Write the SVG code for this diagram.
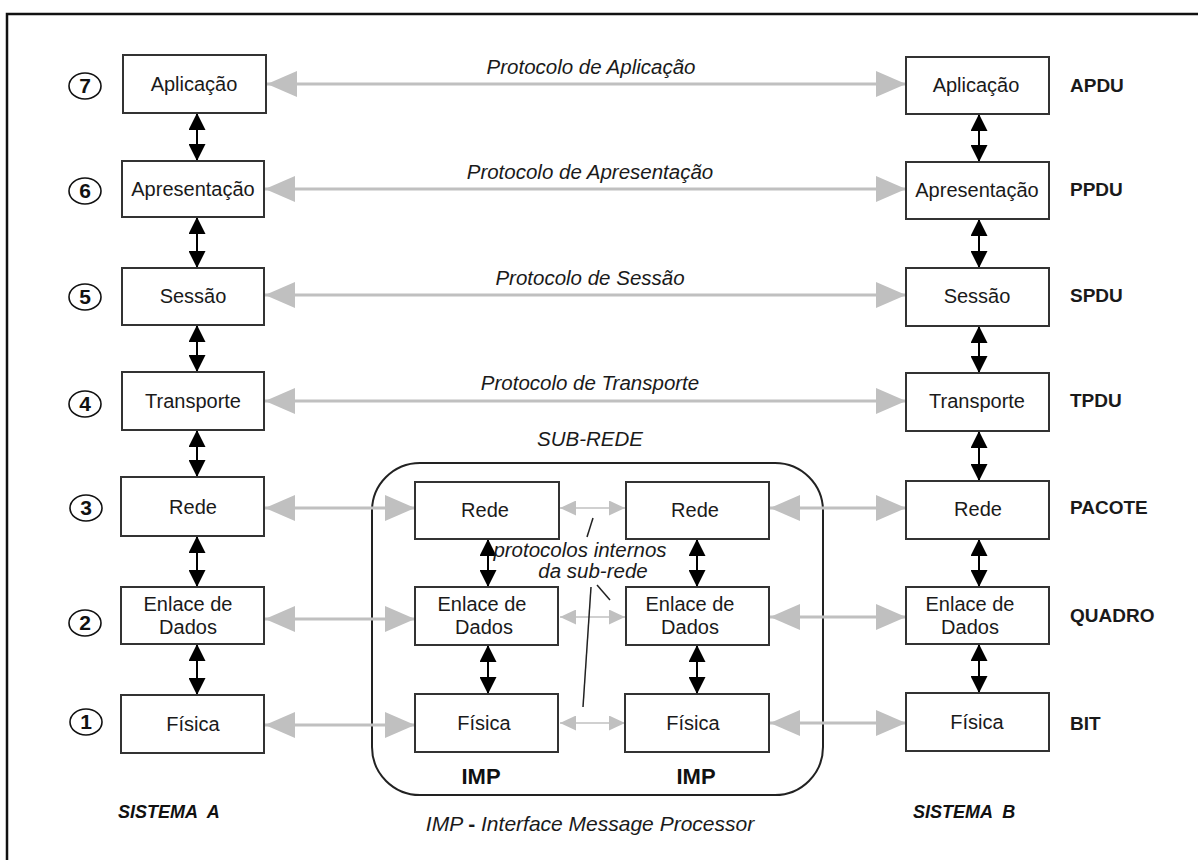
<svg xmlns="http://www.w3.org/2000/svg" width="1198" height="860" viewBox="0 0 1198 860">
<style>
.box{fill:#fff;stroke:#333;stroke-width:2}
.lbl{font-family:"Liberation Sans",Arial,sans-serif;font-size:20px;fill:#1a1a1a;text-anchor:middle}
.it{font-family:"Liberation Sans",Arial,sans-serif;font-size:20.5px;font-style:italic;fill:#1a1a1a;text-anchor:middle}
.pdu{font-family:"Liberation Sans",Arial,sans-serif;font-size:19px;font-weight:bold;fill:#1a1a1a}
.num{font-family:"Liberation Sans",Arial,sans-serif;font-size:21px;font-weight:bold;fill:#111;text-anchor:middle}
.circ{fill:#fff;stroke:#111;stroke-width:1.6}
.gray{stroke:#c0c0c0;stroke-width:3;fill:none;marker-start:url(#gh);marker-end:url(#gh)}
.gsm{stroke:#c0c0c0;stroke-width:1.6;fill:none;marker-start:url(#gs);marker-end:url(#gs)}
.blk{stroke:#000;stroke-width:2;fill:none;marker-start:url(#bh);marker-end:url(#bh)}
.ptr{stroke:#222;stroke-width:1.5;fill:none}
</style>
<defs>
<marker id="gh" markerUnits="userSpaceOnUse" markerWidth="30" markerHeight="26" refX="30" refY="13" orient="auto-start-reverse" viewBox="0 0 30 26"><path d="M0,0 L30,13 L0,26 Z" fill="#c0c0c0"/></marker>
<marker id="gs" markerUnits="userSpaceOnUse" markerWidth="16" markerHeight="15" refX="16" refY="7.5" orient="auto-start-reverse" viewBox="0 0 16 15"><path d="M0,0 L16,7.5 L0,15 Z" fill="#c0c0c0"/></marker>
<marker id="bh" markerUnits="userSpaceOnUse" markerWidth="17" markerHeight="17" refX="17" refY="8.5" orient="auto-start-reverse" viewBox="0 0 17 17"><path d="M0,0 L17,8.5 L0,17 Z" fill="#000"/></marker>
</defs>
<rect width="1198" height="860" fill="#fff"/>
<rect x="7" y="14" width="1260" height="900" fill="none" stroke="#111" stroke-width="2.5"/>

<g id="subrede">
<rect x="372" y="463" width="451" height="332" rx="48" ry="48" fill="none" stroke="#222" stroke-width="2"/>
<text class="it" x="590" y="446">SUB-REDE</text>
</g>

<g id="connectors">
<line class="gray" x1="267" y1="84" x2="906" y2="84"/>
<line class="gray" x1="265" y1="189" x2="906" y2="189"/>
<line class="gray" x1="265" y1="295" x2="906" y2="295"/>
<line class="gray" x1="265" y1="401" x2="906" y2="401"/>
<line class="gray" x1="265" y1="508" x2="415" y2="508"/>
<line class="gray" x1="265" y1="619" x2="415" y2="619"/>
<line class="gray" x1="265" y1="725" x2="415" y2="725"/>
<line class="gray" x1="770" y1="508" x2="906" y2="508"/>
<line class="gray" x1="770" y1="617" x2="906" y2="617"/>
<line class="gray" x1="770" y1="723" x2="906" y2="723"/>
<line class="gsm" x1="560" y1="508" x2="625" y2="508"/>
<line class="gsm" x1="560" y1="617" x2="625" y2="617"/>
<line class="gsm" x1="560" y1="723" x2="625" y2="723"/>
<line class="blk" x1="197" y1="113" x2="197" y2="161"/>
<line class="blk" x1="197" y1="217" x2="197" y2="268"/>
<line class="blk" x1="197" y1="325" x2="197" y2="372"/>
<line class="blk" x1="197" y1="430" x2="197" y2="477"/>
<line class="blk" x1="197" y1="536" x2="197" y2="587"/>
<line class="blk" x1="197" y1="644" x2="197" y2="695"/>
<line class="blk" x1="979" y1="114" x2="979" y2="162"/>
<line class="blk" x1="979" y1="219" x2="979" y2="268"/>
<line class="blk" x1="979" y1="326" x2="979" y2="373"/>
<line class="blk" x1="979" y1="431" x2="979" y2="481"/>
<line class="blk" x1="979" y1="539" x2="979" y2="587"/>
<line class="blk" x1="979" y1="644" x2="979" y2="693"/>
<line class="blk" x1="488" y1="539" x2="488" y2="587"/>
<line class="blk" x1="488" y1="645" x2="488" y2="694"/>
<line class="blk" x1="697" y1="539" x2="697" y2="587"/>
<line class="blk" x1="697" y1="645" x2="697" y2="694"/>
<line class="ptr" x1="593" y1="518" x2="587" y2="537"/>
<line class="ptr" x1="597" y1="585" x2="610" y2="600"/>
<line class="ptr" x1="591" y1="587" x2="583" y2="707"/>
</g>

<g id="protocol-labels">
<text class="it" x="591" y="74">Protocolo de Aplicação</text>
<text class="it" x="590" y="179">Protocolo de Apresentação</text>
<text class="it" x="590" y="285">Protocolo de Sessão</text>
<text class="it" x="590" y="390">Protocolo de Transporte</text>
<text class="it" x="580" y="557">protocolos internos</text>
<text class="it" x="593" y="578">da sub-rede</text>
</g>

<g id="numbers">
<ellipse class="circ" cx="85" cy="86" rx="16" ry="13"/><text class="num" x="85" y="93">7</text>
<ellipse class="circ" cx="85" cy="191" rx="16" ry="13"/><text class="num" x="85" y="198">6</text>
<ellipse class="circ" cx="85" cy="297" rx="16" ry="13"/><text class="num" x="85" y="304">5</text>
<ellipse class="circ" cx="85" cy="404" rx="16" ry="13"/><text class="num" x="85" y="411">4</text>
<ellipse class="circ" cx="86" cy="508" rx="16" ry="13"/><text class="num" x="86" y="515">3</text>
<ellipse class="circ" cx="85" cy="623" rx="16" ry="13"/><text class="num" x="85" y="630">2</text>
<ellipse class="circ" cx="86" cy="722" rx="16" ry="13"/><text class="num" x="86" y="729">1</text>
</g>

<g id="a-aplicacao"><rect class="box" x="123" y="55" width="143" height="58"/><text class="lbl" x="194" y="91">Aplicação</text></g>
<g id="a-apresentacao"><rect class="box" x="122" y="161" width="142" height="56"/><text class="lbl" x="193" y="196">Apresentação</text></g>
<g id="a-sessao"><rect class="box" x="122" y="268" width="142" height="57"/><text class="lbl" x="193" y="303">Sessão</text></g>
<g id="a-transporte"><rect class="box" x="122" y="372" width="142" height="58"/><text class="lbl" x="193" y="408">Transporte</text></g>
<g id="a-rede"><rect class="box" x="121" y="477" width="143" height="59"/><text class="lbl" x="193" y="514">Rede</text></g>
<g id="a-enlace"><rect class="box" x="121" y="587" width="143" height="57"/><text class="lbl" x="188" y="611">Enlace de</text><text class="lbl" x="188" y="634">Dados</text></g>
<g id="a-fisica"><rect class="box" x="121" y="695" width="143" height="58"/><text class="lbl" x="193" y="731">Física</text></g>

<g id="imp1-rede"><rect class="box" x="415" y="482" width="144" height="57"/><text class="lbl" x="485" y="517">Rede</text></g>
<g id="imp1-enlace"><rect class="box" x="415" y="587" width="143" height="58"/><text class="lbl" x="482" y="611">Enlace de</text><text class="lbl" x="484" y="634">Dados</text></g>
<g id="imp1-fisica"><rect class="box" x="415" y="694" width="143" height="58"/><text class="lbl" x="484" y="730">Física</text></g>
<g id="imp2-rede"><rect class="box" x="626" y="482" width="143" height="57"/><text class="lbl" x="695" y="517">Rede</text></g>
<g id="imp2-enlace"><rect class="box" x="626" y="587" width="143" height="58"/><text class="lbl" x="690" y="611">Enlace de</text><text class="lbl" x="690" y="634">Dados</text></g>
<g id="imp2-fisica"><rect class="box" x="625" y="694" width="144" height="58"/><text class="lbl" x="693" y="730">Física</text></g>

<g id="b-aplicacao"><rect class="box" x="906" y="57" width="143" height="57"/><text class="lbl" x="976" y="92">Aplicação</text></g>
<g id="b-apresentacao"><rect class="box" x="906" y="162" width="143" height="57"/><text class="lbl" x="977" y="197">Apresentação</text></g>
<g id="b-sessao"><rect class="box" x="906" y="268" width="143" height="58"/><text class="lbl" x="977" y="303">Sessão</text></g>
<g id="b-transporte"><rect class="box" x="906" y="373" width="143" height="58"/><text class="lbl" x="977" y="408">Transporte</text></g>
<g id="b-rede"><rect class="box" x="906" y="481" width="143" height="58"/><text class="lbl" x="978" y="516">Rede</text></g>
<g id="b-enlace"><rect class="box" x="906" y="587" width="143" height="57"/><text class="lbl" x="970" y="611">Enlace de</text><text class="lbl" x="970" y="634">Dados</text></g>
<g id="b-fisica"><rect class="box" x="906" y="693" width="143" height="58"/><text class="lbl" x="977" y="729">Física</text></g>

<g id="pdus">
<text class="pdu" x="1070" y="92">APDU</text>
<text class="pdu" x="1070" y="196">PPDU</text>
<text class="pdu" x="1070" y="302">SPDU</text>
<text class="pdu" x="1070" y="407">TPDU</text>
<text class="pdu" x="1070" y="514">PACOTE</text>
<text class="pdu" x="1070" y="622">QUADRO</text>
<text class="pdu" x="1070" y="730">BIT</text>
</g>

<g id="footer">
<text x="481" y="784" style="font-family:'Liberation Sans',Arial,sans-serif;font-size:22px;font-weight:bold;fill:#111;text-anchor:middle">IMP</text>
<text x="696" y="784" style="font-family:'Liberation Sans',Arial,sans-serif;font-size:22px;font-weight:bold;fill:#111;text-anchor:middle">IMP</text>
<text x="118" y="818" style="font-family:'Liberation Sans',Arial,sans-serif;font-size:18px;font-weight:bold;font-style:italic;fill:#111" word-spacing="5">SISTEMA A</text>
<text x="913" y="818" style="font-family:'Liberation Sans',Arial,sans-serif;font-size:18px;font-weight:bold;font-style:italic;fill:#111" word-spacing="5">SISTEMA B</text>
<text class="it" x="590" y="831" style="font-size:21px">IMP <tspan font-weight="bold" font-style="normal">-</tspan> Interface Message Processor</text>
</g>
</svg>
